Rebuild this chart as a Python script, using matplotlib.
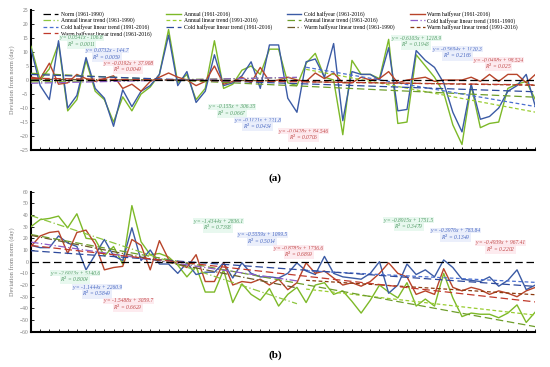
import matplotlib.pyplot as plt
import numpy as np

plt.rcParams['font.family'] = ['Liberation Serif', 'DejaVu Serif']

years = np.arange(1961, 2017)

# (a) deviations from norm (day)
a_annual = [12, 0, 4, 13, -11, -7, 7, -4, -7, -15, -6, -11, -5, -2.5, 2, 18, -1, 2, -7, -3,
            14, -3, -1.5, 3.5, 5, 2, 11, 11, -1, -2, 6, 9.5, 1, 0, -19.5, 7, 2, 2, 0.5, 14.5,
            -15.5, -15, 9, 5, 1, -4.5, -16, -23, -2, -17, -15.5, -15, -3, -1.5, -0.5, -7]
a_cold = [11, -2, -7, 14, -10, -5.5, 8, -3, -6.5, -16.5, -3.5, -9.5, -4, -2, 2, 16, -2, 3, -8, -4,
          9, -2, -1, 1.5, 6.5, -3, 12.5, 12.5, -6.5, -11.5, 6.5, 7.5, 1, 13, -14.5, 3, 2, 2, 0, 11.5,
          -11, -10.5, 10.5, 7, 4.5, -1, -11.5, -18.5, -1.5, -14, -13, -10, -4, -2, 2, -9.5]
a_warm = [1, 0.5, 6, -1.5, -1, 2, 0.5, -0.5, 0.5, 1.5, -3, -1.5, -4, -0.5, 1, 2.5, 1, 0, -2, -0.5,
          5, -1.5, -0.5, 1, -1, 4.5, -0.5, 0, 1, 0, -0.5, 2.5, 0.5, 2.5, -1, -1, 1, 0, 0.5, 3,
          -1, 0, 0.5, 1, -0.5, 0, 0, 0, 1, -0.5, 2, -0.5, 2, 2, -1, 2]

# (b) deviations from norm (day)
b_annual = [30, 36, 37, 39, 29, 41, 20, 19, 5, 13, -2, 48, 17, 6, 7, 4, -3, -13, -4, -26,
            -26, -7, -35, -19, -28, -33, -23, -38, -28, -22, -35, -20, -18, -28, -25, -34, -44, -33, -20, -26,
            -31, -18, -38, -32, -38, -10, -31, -47, -44, -45, -45, -48, -44, -37, -52, -43]
b_cold = [14, 12, 12, 22, 16, 13, -7, 6, 19, 5, 1, 29, 1, 10, -2, -2, -10, -1, -11, -9,
          -9, -1, -14, -1, -10, -13, -13, -14, -10, -1, -8, -11, 4.5, -10, -13, -14, -15, -10, 0, -27,
          -20, -2, -11, -7, -13, 1.5, -5, -15, -16, -17, -13, -21, -16, -7, -24, -20]
b_warm = [13, 22, 25, 26, 7, 25, 27, 15, -7, -5, -4, 19, 14, -7, 18, 2, -2, -5, 6, -17,
          -17, -1, -20, -17, -18, -15, -20, -15, -24, -18, -1, -10, -8, -14, -20, -18, -21, -17, -10, -1,
          -10, -13, -28, -25, -28, -6, -22, -25, -22, -24, -28, -25, -27, -30, -25, -22]

# linear trends: (slope, intercept, R2) for 1961-1990, 1991-2016, 1961-2016
periods = [(1961, 1990), (1991, 2016), (1961, 2016)]
a_annual_fit = [(0.0541, -106.8, '0.0011'), (-0.6103, 1218.9, '0.1943'), (-0.155, 306.35, '0.0667')]
a_cold_fit = [(0.0732, -144.7, '0.0059'), (-0.5604, 1120.3, '0.2166'), (-0.1121, 221.8, '0.0434')]
a_warm_fit = [(-0.0192, 37.908, '0.0049'), (-0.0498, 98.524, '0.025'), (-0.0428, 84.546, '0.0706')]
b_annual_fit = [(-2.6013, 5140.6, '0.8004'), (-0.8915, 1751.5, '0.3479'), (-1.4344, 2836.1, '0.7393')]
b_cold_fit = [(-1.1444, 2260.9, '0.5849'), (-0.3976, 783.84, '0.1349'), (-0.5559, 1099.5, '0.5014')]
b_warm_fit = [(-1.5488, 3059.7, '0.6629'), (-0.4939, 967.41, '0.2202'), (-0.8785, 1736.6, '0.6899')]

c_annual, c_cold, c_warm = '#7db928', '#3b5ba5', '#b8442a'
trend_styles = {
    'Annual': [('#8dc63f', (0, (6, 2, 1, 2))), ('#9acd32', (0, (3, 2))), ('#6e9e2a', (0, (6, 3)))],
    'Cold halfyear': [('#8e5cc8', (0, (6, 2, 1, 2))), ('#4a6fd0', (0, (3, 2))), ('#2e4a9c', (0, (6, 3)))],
    'Warm halfyear': [('#6b5a2a', (0, (6, 2, 1, 2))), ('#8b3a0f', (0, (3, 2))), ('#c0392b', (0, (6, 3)))],
}
eq_colors = {'Annual': ('#4f9a63', '#e3f7ec'), 'Cold halfyear': ('#4363c0', '#e6ecfb'),
             'Warm halfyear': ('#c04545', '#fde6ec')}


def fmt_eq(m, c):
    sign = '+' if c >= 0 else '-'
    return 'y = %gx %s %g' % (m, sign, abs(c))


def draw_panel(ax, series, fits, labels_pos, ylim, yticks):
    handles = {}
    h, = ax.plot([1961, 2016], [0, 0], color='k', ls=(0, (6, 3)), lw=0.9, zorder=5)
    handles['Norm (1961-1990)'] = h
    for name, vals, col in series:
        h, = ax.plot(years, vals, color=col, lw=1.0, zorder=3)
        handles['%s (1961-2016)' % name] = h
    for name, fit in fits:
        for (p0, p1), (m, c, r2), (col, ls) in zip(periods, fit, trend_styles[name]):
            xs = np.array([p0, p1])
            h, = ax.plot(xs, m * xs + c, color=col, ls=ls, lw=0.9, zorder=4)
            handles['%s linear trend (%d-%d)' % (name, p0, p1)] = h
    for (name, k), (x, y) in labels_pos.items():
        m, c, r2 = dict(fits)[name][k]
        tc, bg = eq_colors[name]
        ax.text(x, y, fmt_eq(m, c), color=tc, fontsize=4, style='italic', ha='center', va='center',
                zorder=6, bbox=dict(fc=bg, ec='none', pad=0.3, alpha=0.8))
        ax.text(x, y - (ylim[1] - ylim[0]) * 0.045, 'R$^2$ = ' + r2, color=tc, fontsize=4,
                style='italic', ha='center', va='center', zorder=6,
                bbox=dict(fc=bg, ec='none', pad=0.3, alpha=0.8))
    ax.set_xlim(1961, 2016)
    ax.set_ylim(*ylim)
    ax.set_yticks(yticks)
    ax.set_xticks(years)
    ax.tick_params(axis='x', labelbottom=False, direction='in', length=2, width=0.6)
    ax.tick_params(axis='y', direction='in', length=2, width=0.6, labelsize=4, labelcolor='#777777', pad=2)
    for s in ['top', 'right']:
        ax.spines[s].set_visible(False)
    for s in ['left', 'bottom']:
        ax.spines[s].set_linewidth(1.5)
    ax.set_ylabel('Deviation from norm (day)', fontsize=4.5, color='#777777', labelpad=3)
    return handles


fig = plt.figure(figsize=(5.5, 3.67), dpi=100)
ax_a = fig.add_axes([0.0564, 0.591, 0.917, 0.382])
ax_b = fig.add_axes([0.0564, 0.096, 0.917, 0.382])

series_a = [('Annual', a_annual, c_annual), ('Cold halfyear', a_cold, c_cold), ('Warm halfyear', a_warm, c_warm)]
fits_a = [('Annual', a_annual_fit), ('Cold halfyear', a_cold_fit), ('Warm halfyear', a_warm_fit)]
pos_a = {('Annual', 0): (1966.5, 15.0), ('Cold halfyear', 0): (1969.3, 10.5), ('Warm halfyear', 0): (1971.6, 6),
         ('Annual', 2): (1982.9, -9.5), ('Cold halfyear', 2): (1985.7, -14.3), ('Warm halfyear', 2): (1990.7, -18.2),
         ('Annual', 1): (2003, 14.9), ('Cold halfyear', 1): (2007.5, 11), ('Warm halfyear', 1): (2012, 7.1)}
handles = draw_panel(ax_a, series_a, fits_a, pos_a, (-25, 25), range(-25, 26, 5))

series_b = [('Annual', b_annual, c_annual), ('Cold halfyear', b_cold, c_cold), ('Warm halfyear', b_warm, c_warm)]
fits_b = [('Annual', b_annual_fit), ('Cold halfyear', b_cold_fit), ('Warm halfyear', b_warm_fit)]
pos_b = {('Annual', 0): (1965.8, -9.7), ('Cold halfyear', 0): (1968.2, -22), ('Warm halfyear', 0): (1971.6, -33.4),
         ('Annual', 2): (1981.4, 34.6), ('Cold halfyear', 2): (1986.2, 23.1), ('Warm halfyear', 2): (1990.2, 11.7),
         ('Annual', 1): (2002.2, 35.5), ('Cold halfyear', 1): (2007.3, 26.6), ('Warm halfyear', 1): (2012.2, 16)}
draw_panel(ax_b, series_b, fits_b, pos_b, (-60, 60), range(-60, 61, 10))

# legend order as in the figure (matplotlib fills columns first)
order = ['Norm (1961-1990)', 'Annual linear trend (1961-1990)', 'Cold halfyear linear trend (1991-2016)',
         'Warm halfyear linear trend (1961-2016)',
         'Annual (1961-2016)', 'Annual linear trend (1991-2016)', 'Cold halfyear linear trend (1961-2016)',
         'Cold halfyear (1961-2016)', 'Annual linear trend (1961-2016)', 'Warm halfyear linear trend (1961-1990)',
         'Warm halfyear (1961-2016)', 'Cold halfyear linear trend (1961-1990)', 'Warm halfyear linear trend (1991-2016)']
ax_a.legend([handles[k] for k in order], order, loc='upper left', bbox_to_anchor=(0.018, 1.012), ncol=4,
            fontsize=4.1, frameon=False, handlelength=2.6, columnspacing=2.6, labelspacing=0.1,
            borderpad=0, handletextpad=0.5)

fig.text(0.5, 0.515, '(a)', fontsize=8, fontweight='bold', ha='center', va='center')
fig.text(0.5, 0.033, '(b)', fontsize=8, fontweight='bold', ha='center', va='center')

fig.savefig('out.png', dpi=100)
